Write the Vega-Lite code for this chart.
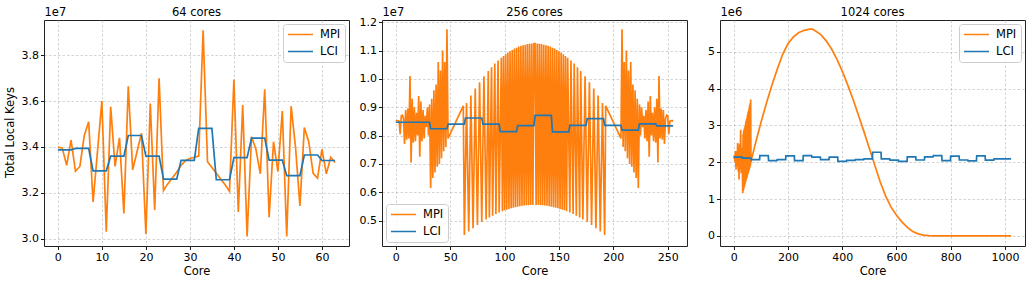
{
  "$schema": "https://vega.github.io/schema/vega-lite/v6.json",
  "background": "white",
  "padding": {"left": 5, "top": 5, "right": 5, "bottom": 3},
  "title": {"text": "Total Local Keys", "orient": "left", "anchor": "middle", "font": "DejaVu Sans", "fontSize": 11.5, "fontWeight": "normal", "color": "black", "offset": 4, "dx": 9},
  "config": {
    "font": "DejaVu Sans",
    "view": {"stroke": "#222222", "strokeWidth": 1},
    "axis": {
      "labelFont": "DejaVu Sans", "labelFontSize": 11, "labelColor": "black", "labelOverlap": false, "tickCount": 12,
      "tickColor": "black", "tickSize": 3.5, "tickWidth": 0.9, "labelPadding": 2,
      "domain": false, "grid": true, "gridColor": "#b0b0b0", "gridOpacity": 0.7, "gridDash": [2.5, 2], "gridWidth": 0.8,
      "titleFont": "DejaVu Sans", "titleFontSize": 11.5, "titleFontWeight": "normal", "titleColor": "black", "titlePadding": 3
    },
    "title": {"font": "DejaVu Sans", "fontSize": 11.5, "fontWeight": "normal", "color": "black", "offset": -12},
    "legend": {
      "labelFont": "DejaVu Sans", "labelFontSize": 11.5, "labelColor": "black",
      "symbolType": "stroke", "symbolSize": 625, "symbolStrokeWidth": 1.7,
      "clipHeight": 13, "labelOffset": 6, "padding": 4, "rowPadding": 4, "offset": 4,
      "strokeColor": "#cccccc", "fillColor": "rgba(255,255,255,0.85)", "cornerRadius": 3
    },
    "line": {"strokeWidth": 1.7}
  },
  "bounds": "flush",
  "spacing": 33,
  "resolve": {"scale": {"color": "independent"}, "legend": {"color": "independent"}},
  "datasets": {
    "cores64": [
      {"core":0,"series":"MPI","keys":3.40},{"core":1,"series":"MPI","keys":3.395},{"core":2,"series":"MPI","keys":3.32},{"core":3,"series":"MPI","keys":3.43},
      {"core":4,"series":"MPI","keys":3.295},{"core":5,"series":"MPI","keys":3.315},{"core":6,"series":"MPI","keys":3.45},{"core":7,"series":"MPI","keys":3.51},
      {"core":8,"series":"MPI","keys":3.16},{"core":9,"series":"MPI","keys":3.38},{"core":10,"series":"MPI","keys":3.60},{"core":11,"series":"MPI","keys":3.03},
      {"core":12,"series":"MPI","keys":3.575},{"core":13,"series":"MPI","keys":3.315},{"core":14,"series":"MPI","keys":3.44},{"core":15,"series":"MPI","keys":3.11},
      {"core":16,"series":"MPI","keys":3.665},{"core":17,"series":"MPI","keys":3.30},{"core":18,"series":"MPI","keys":3.38},{"core":19,"series":"MPI","keys":3.46},
      {"core":20,"series":"MPI","keys":3.02},{"core":21,"series":"MPI","keys":3.59},{"core":22,"series":"MPI","keys":3.125},{"core":23,"series":"MPI","keys":3.70},
      {"core":24,"series":"MPI","keys":3.21},{"core":25,"series":"MPI","keys":3.24},{"core":26,"series":"MPI","keys":3.265},{"core":27,"series":"MPI","keys":3.29},
      {"core":28,"series":"MPI","keys":3.32},{"core":29,"series":"MPI","keys":3.34},{"core":30,"series":"MPI","keys":3.35},{"core":31,"series":"MPI","keys":3.355},
      {"core":32,"series":"MPI","keys":3.36},{"core":33,"series":"MPI","keys":3.909},{"core":34,"series":"MPI","keys":3.336},{"core":35,"series":"MPI","keys":3.31},
      {"core":36,"series":"MPI","keys":3.285},{"core":37,"series":"MPI","keys":3.26},{"core":38,"series":"MPI","keys":3.235},{"core":39,"series":"MPI","keys":3.206},
      {"core":40,"series":"MPI","keys":3.694},{"core":41,"series":"MPI","keys":3.116},{"core":42,"series":"MPI","keys":3.583},{"core":43,"series":"MPI","keys":3.01},
      {"core":44,"series":"MPI","keys":3.445},{"core":45,"series":"MPI","keys":3.39},{"core":46,"series":"MPI","keys":3.283},{"core":47,"series":"MPI","keys":3.652},
      {"core":48,"series":"MPI","keys":3.094},{"core":49,"series":"MPI","keys":3.423},{"core":50,"series":"MPI","keys":3.293},{"core":51,"series":"MPI","keys":3.557},
      {"core":52,"series":"MPI","keys":3.01},{"core":53,"series":"MPI","keys":3.578},{"core":54,"series":"MPI","keys":3.40},{"core":55,"series":"MPI","keys":3.143},
      {"core":56,"series":"MPI","keys":3.485},{"core":57,"series":"MPI","keys":3.423},{"core":58,"series":"MPI","keys":3.285},{"core":59,"series":"MPI","keys":3.264},
      {"core":60,"series":"MPI","keys":3.39},{"core":61,"series":"MPI","keys":3.283},{"core":62,"series":"MPI","keys":3.355},{"core":63,"series":"MPI","keys":3.332},
      {"core":0,"series":"LCI","keys":3.387},{"core":3,"series":"LCI","keys":3.387},{"core":4,"series":"LCI","keys":3.394},{"core":7,"series":"LCI","keys":3.394},
      {"core":8,"series":"LCI","keys":3.296},{"core":11,"series":"LCI","keys":3.296},{"core":12,"series":"LCI","keys":3.36},{"core":15,"series":"LCI","keys":3.36},
      {"core":16,"series":"LCI","keys":3.45},{"core":19,"series":"LCI","keys":3.45},{"core":20,"series":"LCI","keys":3.36},{"core":23,"series":"LCI","keys":3.36},
      {"core":24,"series":"LCI","keys":3.26},{"core":27,"series":"LCI","keys":3.26},{"core":28,"series":"LCI","keys":3.342},{"core":31,"series":"LCI","keys":3.342},
      {"core":32,"series":"LCI","keys":3.481},{"core":35,"series":"LCI","keys":3.481},{"core":36,"series":"LCI","keys":3.257},{"core":39,"series":"LCI","keys":3.257},
      {"core":40,"series":"LCI","keys":3.354},{"core":43,"series":"LCI","keys":3.354},{"core":44,"series":"LCI","keys":3.439},{"core":47,"series":"LCI","keys":3.439},
      {"core":48,"series":"LCI","keys":3.343},{"core":51,"series":"LCI","keys":3.343},{"core":52,"series":"LCI","keys":3.275},{"core":55,"series":"LCI","keys":3.275},
      {"core":56,"series":"LCI","keys":3.365},{"core":59,"series":"LCI","keys":3.365},{"core":60,"series":"LCI","keys":3.341},{"core":63,"series":"LCI","keys":3.341}
    ],
    "cores256": [
      {"core":0,"series":"MPI","keys":0.85},{"core":1,"series":"MPI","keys":0.853},{"core":2,"series":"MPI","keys":0.852},{"core":3,"series":"MPI","keys":0.85},
      {"core":4,"series":"MPI","keys":0.805},{"core":5,"series":"MPI","keys":0.87},{"core":6,"series":"MPI","keys":0.872},{"core":7,"series":"MPI","keys":0.86},
      {"core":8,"series":"MPI","keys":0.77},{"core":9,"series":"MPI","keys":0.89},{"core":10,"series":"MPI","keys":0.785},{"core":11,"series":"MPI","keys":0.895},
      {"core":12,"series":"MPI","keys":0.79},{"core":13,"series":"MPI","keys":1.01},{"core":14,"series":"MPI","keys":0.705},{"core":15,"series":"MPI","keys":0.93},
      {"core":16,"series":"MPI","keys":0.775},{"core":17,"series":"MPI","keys":0.90},{"core":18,"series":"MPI","keys":0.78},{"core":19,"series":"MPI","keys":0.88},
      {"core":20,"series":"MPI","keys":0.80},{"core":21,"series":"MPI","keys":0.94},{"core":22,"series":"MPI","keys":0.725},{"core":23,"series":"MPI","keys":0.92},
      {"core":24,"series":"MPI","keys":0.78},{"core":25,"series":"MPI","keys":0.89},{"core":26,"series":"MPI","keys":0.79},{"core":27,"series":"MPI","keys":0.87},
      {"core":28,"series":"MPI","keys":0.83},{"core":29,"series":"MPI","keys":0.90},{"core":30,"series":"MPI","keys":0.80},{"core":31,"series":"MPI","keys":0.91},
      {"core":32,"series":"MPI","keys":0.615},{"core":33,"series":"MPI","keys":0.93},{"core":34,"series":"MPI","keys":0.65},{"core":35,"series":"MPI","keys":0.96},
      {"core":36,"series":"MPI","keys":0.67},{"core":37,"series":"MPI","keys":0.98},{"core":38,"series":"MPI","keys":0.69},{"core":39,"series":"MPI","keys":1.06},
      {"core":40,"series":"MPI","keys":0.70},{"core":41,"series":"MPI","keys":1.03},{"core":42,"series":"MPI","keys":0.72},{"core":43,"series":"MPI","keys":1.10},
      {"core":44,"series":"MPI","keys":0.745},{"core":45,"series":"MPI","keys":1.06},{"core":46,"series":"MPI","keys":0.76},{"core":47,"series":"MPI","keys":1.175},
      {"core":48,"series":"MPI","keys":0.79},{"core":62,"series":"MPI","keys":0.905},{"core":63,"series":"MPI","keys":0.449},
      {"core":65,"series":"MPI","keys":0.915},{"core":67,"series":"MPI","keys":0.461},{"core":69,"series":"MPI","keys":0.941},{"core":71,"series":"MPI","keys":0.473},
      {"core":73,"series":"MPI","keys":0.966},{"core":75,"series":"MPI","keys":0.484},{"core":77,"series":"MPI","keys":0.988},{"core":79,"series":"MPI","keys":0.495},
      {"core":81,"series":"MPI","keys":1.009},{"core":83,"series":"MPI","keys":0.504},{"core":85,"series":"MPI","keys":1.028},{"core":86,"series":"MPI","keys":0.511},
      {"core":88,"series":"MPI","keys":1.041},{"core":89,"series":"MPI","keys":0.517},{"core":91,"series":"MPI","keys":1.054},{"core":92,"series":"MPI","keys":0.523},
      {"core":94,"series":"MPI","keys":1.065},{"core":95,"series":"MPI","keys":0.528},{"core":97,"series":"MPI","keys":1.075},{"core":98,"series":"MPI","keys":0.533},
      {"core":99,"series":"MPI","keys":1.081},{"core":100,"series":"MPI","keys":0.536},{"core":101,"series":"MPI","keys":1.087},{"core":102,"series":"MPI","keys":0.538},
      {"core":103,"series":"MPI","keys":1.093},{"core":104,"series":"MPI","keys":0.541},{"core":105,"series":"MPI","keys":1.098},{"core":106,"series":"MPI","keys":0.543},
      {"core":107,"series":"MPI","keys":1.102},{"core":108,"series":"MPI","keys":0.545},{"core":109,"series":"MPI","keys":1.107},{"core":110,"series":"MPI","keys":0.547},
      {"core":111,"series":"MPI","keys":1.110},{"core":112,"series":"MPI","keys":0.549},{"core":113,"series":"MPI","keys":1.114},{"core":114,"series":"MPI","keys":0.550},
      {"core":115,"series":"MPI","keys":1.117},{"core":116,"series":"MPI","keys":0.552},{"core":117,"series":"MPI","keys":1.119},{"core":118,"series":"MPI","keys":0.553},
      {"core":119,"series":"MPI","keys":1.121},{"core":120,"series":"MPI","keys":0.554},{"core":121,"series":"MPI","keys":1.123},{"core":122,"series":"MPI","keys":0.554},
      {"core":123,"series":"MPI","keys":1.124},{"core":124,"series":"MPI","keys":0.555},{"core":125,"series":"MPI","keys":1.125},{"core":126,"series":"MPI","keys":0.555},
      {"core":127,"series":"MPI","keys":1.125},{"core":128,"series":"MPI","keys":1.125},{"core":129,"series":"MPI","keys":0.555},{"core":130,"series":"MPI","keys":1.125},
      {"core":131,"series":"MPI","keys":0.555},{"core":132,"series":"MPI","keys":1.124},{"core":133,"series":"MPI","keys":0.554},{"core":134,"series":"MPI","keys":1.123},
      {"core":135,"series":"MPI","keys":0.554},{"core":136,"series":"MPI","keys":1.121},{"core":137,"series":"MPI","keys":0.553},{"core":138,"series":"MPI","keys":1.119},
      {"core":139,"series":"MPI","keys":0.552},{"core":140,"series":"MPI","keys":1.117},{"core":141,"series":"MPI","keys":0.550},{"core":142,"series":"MPI","keys":1.114},
      {"core":143,"series":"MPI","keys":0.549},{"core":144,"series":"MPI","keys":1.110},{"core":145,"series":"MPI","keys":0.547},{"core":146,"series":"MPI","keys":1.107},
      {"core":147,"series":"MPI","keys":0.545},{"core":148,"series":"MPI","keys":1.102},{"core":149,"series":"MPI","keys":0.543},{"core":150,"series":"MPI","keys":1.098},
      {"core":151,"series":"MPI","keys":0.541},{"core":152,"series":"MPI","keys":1.093},{"core":153,"series":"MPI","keys":0.538},{"core":154,"series":"MPI","keys":1.087},
      {"core":155,"series":"MPI","keys":0.536},{"core":156,"series":"MPI","keys":1.081},{"core":157,"series":"MPI","keys":0.533},{"core":158,"series":"MPI","keys":1.075},
      {"core":160,"series":"MPI","keys":0.528},{"core":161,"series":"MPI","keys":1.065},{"core":163,"series":"MPI","keys":0.523},{"core":164,"series":"MPI","keys":1.054},
      {"core":166,"series":"MPI","keys":0.517},{"core":167,"series":"MPI","keys":1.041},{"core":169,"series":"MPI","keys":0.511},{"core":170,"series":"MPI","keys":1.028},
      {"core":172,"series":"MPI","keys":0.504},{"core":174,"series":"MPI","keys":1.009},{"core":176,"series":"MPI","keys":0.495},{"core":178,"series":"MPI","keys":0.988},
      {"core":180,"series":"MPI","keys":0.484},{"core":182,"series":"MPI","keys":0.966},{"core":184,"series":"MPI","keys":0.473},{"core":186,"series":"MPI","keys":0.941},
      {"core":188,"series":"MPI","keys":0.461},{"core":190,"series":"MPI","keys":0.915},{"core":192,"series":"MPI","keys":0.449},{"core":193,"series":"MPI","keys":0.905},
      {"core":207,"series":"MPI","keys":0.79},{"core":208,"series":"MPI","keys":1.175},{"core":209,"series":"MPI","keys":0.76},{"core":210,"series":"MPI","keys":1.06},
      {"core":211,"series":"MPI","keys":0.745},{"core":212,"series":"MPI","keys":1.10},{"core":213,"series":"MPI","keys":0.72},{"core":214,"series":"MPI","keys":1.03},
      {"core":215,"series":"MPI","keys":0.70},{"core":216,"series":"MPI","keys":1.06},{"core":217,"series":"MPI","keys":0.69},{"core":218,"series":"MPI","keys":0.98},
      {"core":219,"series":"MPI","keys":0.67},{"core":220,"series":"MPI","keys":0.96},{"core":221,"series":"MPI","keys":0.65},{"core":222,"series":"MPI","keys":0.93},
      {"core":223,"series":"MPI","keys":0.615},{"core":224,"series":"MPI","keys":0.91},{"core":225,"series":"MPI","keys":0.80},{"core":226,"series":"MPI","keys":0.90},
      {"core":227,"series":"MPI","keys":0.83},{"core":228,"series":"MPI","keys":0.87},{"core":229,"series":"MPI","keys":0.79},{"core":230,"series":"MPI","keys":0.89},
      {"core":231,"series":"MPI","keys":0.78},{"core":232,"series":"MPI","keys":0.92},{"core":233,"series":"MPI","keys":0.725},{"core":234,"series":"MPI","keys":0.94},
      {"core":235,"series":"MPI","keys":0.80},{"core":236,"series":"MPI","keys":0.88},{"core":237,"series":"MPI","keys":0.78},{"core":238,"series":"MPI","keys":0.90},
      {"core":239,"series":"MPI","keys":0.775},{"core":240,"series":"MPI","keys":0.93},{"core":241,"series":"MPI","keys":0.705},{"core":242,"series":"MPI","keys":1.01},
      {"core":243,"series":"MPI","keys":0.79},{"core":244,"series":"MPI","keys":0.895},{"core":245,"series":"MPI","keys":0.785},{"core":246,"series":"MPI","keys":0.89},
      {"core":247,"series":"MPI","keys":0.77},{"core":248,"series":"MPI","keys":0.86},{"core":249,"series":"MPI","keys":0.872},{"core":250,"series":"MPI","keys":0.87},
      {"core":251,"series":"MPI","keys":0.805},{"core":252,"series":"MPI","keys":0.85},{"core":253,"series":"MPI","keys":0.852},{"core":254,"series":"MPI","keys":0.853},
      {"core":255,"series":"MPI","keys":0.85},
      {"core":0,"series":"LCI","keys":0.847},{"core":31,"series":"LCI","keys":0.847},{"core":32,"series":"LCI","keys":0.824},{"core":47,"series":"LCI","keys":0.824},
      {"core":48,"series":"LCI","keys":0.840},{"core":63,"series":"LCI","keys":0.840},{"core":64,"series":"LCI","keys":0.862},{"core":79,"series":"LCI","keys":0.862},
      {"core":80,"series":"LCI","keys":0.840},{"core":95,"series":"LCI","keys":0.840},{"core":96,"series":"LCI","keys":0.814},{"core":111,"series":"LCI","keys":0.814},
      {"core":112,"series":"LCI","keys":0.835},{"core":127,"series":"LCI","keys":0.835},{"core":128,"series":"LCI","keys":0.871},{"core":143,"series":"LCI","keys":0.871},
      {"core":144,"series":"LCI","keys":0.813},{"core":159,"series":"LCI","keys":0.813},{"core":160,"series":"LCI","keys":0.836},{"core":175,"series":"LCI","keys":0.836},
      {"core":176,"series":"LCI","keys":0.86},{"core":191,"series":"LCI","keys":0.86},{"core":192,"series":"LCI","keys":0.836},{"core":207,"series":"LCI","keys":0.836},
      {"core":208,"series":"LCI","keys":0.819},{"core":223,"series":"LCI","keys":0.819},{"core":224,"series":"LCI","keys":0.841},{"core":239,"series":"LCI","keys":0.841},
      {"core":240,"series":"LCI","keys":0.834},{"core":255,"series":"LCI","keys":0.834}
    ],
    "cores1024": [
      {"core":0,"series":"MPI","keys":2.1},{"core":2,"series":"MPI","keys":2.2},{"core":4,"series":"MPI","keys":2.0},{"core":6,"series":"MPI","keys":2.3},
      {"core":8,"series":"MPI","keys":1.8},{"core":10,"series":"MPI","keys":2.3},{"core":12,"series":"MPI","keys":1.9},{"core":14,"series":"MPI","keys":2.52},
      {"core":16,"series":"MPI","keys":1.75},{"core":18,"series":"MPI","keys":2.3},{"core":19,"series":"MPI","keys":1.53},{"core":21,"series":"MPI","keys":2.5},
      {"core":23,"series":"MPI","keys":1.8},{"core":25,"series":"MPI","keys":2.88},{"core":27,"series":"MPI","keys":1.7},{"core":29,"series":"MPI","keys":2.4},
      {"core":31,"series":"MPI","keys":1.9},{"core":33,"series":"MPI","keys":1.16},{"core":34,"series":"MPI","keys":2.75},{"core":35,"series":"MPI","keys":1.22},
      {"core":36,"series":"MPI","keys":2.85},{"core":37,"series":"MPI","keys":1.28},{"core":38,"series":"MPI","keys":2.9},{"core":39,"series":"MPI","keys":1.33},
      {"core":40,"series":"MPI","keys":2.95},{"core":41,"series":"MPI","keys":1.4},{"core":42,"series":"MPI","keys":3.0},{"core":43,"series":"MPI","keys":1.45},
      {"core":44,"series":"MPI","keys":3.1},{"core":45,"series":"MPI","keys":1.5},{"core":46,"series":"MPI","keys":3.15},{"core":47,"series":"MPI","keys":1.55},
      {"core":48,"series":"MPI","keys":3.2},{"core":49,"series":"MPI","keys":1.6},{"core":50,"series":"MPI","keys":3.28},{"core":51,"series":"MPI","keys":1.65},
      {"core":52,"series":"MPI","keys":3.35},{"core":53,"series":"MPI","keys":1.7},{"core":54,"series":"MPI","keys":3.4},{"core":55,"series":"MPI","keys":1.75},
      {"core":56,"series":"MPI","keys":3.47},{"core":57,"series":"MPI","keys":1.8},{"core":58,"series":"MPI","keys":3.55},{"core":59,"series":"MPI","keys":1.85},
      {"core":60,"series":"MPI","keys":3.6},{"core":61,"series":"MPI","keys":1.9},{"core":62,"series":"MPI","keys":3.7},{"core":63,"series":"MPI","keys":1.98},
      {"core":64,"series":"MPI","keys":2.05},{"core":80,"series":"MPI","keys":2.52},{"core":100,"series":"MPI","keys":3.08},{"core":120,"series":"MPI","keys":3.6},
      {"core":140,"series":"MPI","keys":4.08},{"core":160,"series":"MPI","keys":4.52},{"core":180,"series":"MPI","keys":4.93},{"core":200,"series":"MPI","keys":5.22},
      {"core":220,"series":"MPI","keys":5.4},{"core":240,"series":"MPI","keys":5.52},{"core":260,"series":"MPI","keys":5.58},{"core":280,"series":"MPI","keys":5.61},
      {"core":290,"series":"MPI","keys":5.61},{"core":300,"series":"MPI","keys":5.57},{"core":320,"series":"MPI","keys":5.47},{"core":340,"series":"MPI","keys":5.3},
      {"core":360,"series":"MPI","keys":5.08},{"core":380,"series":"MPI","keys":4.8},{"core":400,"series":"MPI","keys":4.47},{"core":420,"series":"MPI","keys":4.1},
      {"core":440,"series":"MPI","keys":3.7},{"core":460,"series":"MPI","keys":3.27},{"core":480,"series":"MPI","keys":2.83},{"core":500,"series":"MPI","keys":2.37},
      {"core":520,"series":"MPI","keys":1.92},{"core":540,"series":"MPI","keys":1.46},{"core":560,"series":"MPI","keys":1.08},{"core":580,"series":"MPI","keys":0.78},
      {"core":600,"series":"MPI","keys":0.56},{"core":620,"series":"MPI","keys":0.38},{"core":640,"series":"MPI","keys":0.23},{"core":660,"series":"MPI","keys":0.12},
      {"core":680,"series":"MPI","keys":0.055},{"core":700,"series":"MPI","keys":0.02},{"core":720,"series":"MPI","keys":0.006},{"core":740,"series":"MPI","keys":0.001},
      {"core":760,"series":"MPI","keys":0},{"core":800,"series":"MPI","keys":0},{"core":900,"series":"MPI","keys":0},{"core":1023,"series":"MPI","keys":0},
      {"core":0,"series":"LCI","keys":2.135},{"core":31,"series":"LCI","keys":2.135},{"core":32,"series":"LCI","keys":2.11},{"core":63,"series":"LCI","keys":2.11},
      {"core":64,"series":"LCI","keys":2.07},{"core":95,"series":"LCI","keys":2.07},{"core":96,"series":"LCI","keys":2.18},{"core":127,"series":"LCI","keys":2.18},
      {"core":128,"series":"LCI","keys":2.04},{"core":159,"series":"LCI","keys":2.04},{"core":160,"series":"LCI","keys":2.07},{"core":191,"series":"LCI","keys":2.07},
      {"core":192,"series":"LCI","keys":2.17},{"core":223,"series":"LCI","keys":2.17},{"core":224,"series":"LCI","keys":2.04},{"core":255,"series":"LCI","keys":2.04},
      {"core":256,"series":"LCI","keys":2.18},{"core":287,"series":"LCI","keys":2.18},{"core":288,"series":"LCI","keys":2.14},{"core":319,"series":"LCI","keys":2.14},
      {"core":320,"series":"LCI","keys":2.07},{"core":351,"series":"LCI","keys":2.07},{"core":352,"series":"LCI","keys":2.14},{"core":383,"series":"LCI","keys":2.14},
      {"core":384,"series":"LCI","keys":2.02},{"core":415,"series":"LCI","keys":2.02},{"core":416,"series":"LCI","keys":2.05},{"core":447,"series":"LCI","keys":2.05},
      {"core":448,"series":"LCI","keys":2.07},{"core":479,"series":"LCI","keys":2.07},{"core":480,"series":"LCI","keys":2.09},{"core":511,"series":"LCI","keys":2.09},
      {"core":512,"series":"LCI","keys":2.27},{"core":543,"series":"LCI","keys":2.27},{"core":544,"series":"LCI","keys":2.09},{"core":575,"series":"LCI","keys":2.09},
      {"core":576,"series":"LCI","keys":2.055},{"core":607,"series":"LCI","keys":2.055},{"core":608,"series":"LCI","keys":2.02},{"core":639,"series":"LCI","keys":2.02},
      {"core":640,"series":"LCI","keys":2.145},{"core":671,"series":"LCI","keys":2.145},{"core":672,"series":"LCI","keys":2.06},{"core":703,"series":"LCI","keys":2.06},
      {"core":704,"series":"LCI","keys":2.145},{"core":735,"series":"LCI","keys":2.145},{"core":736,"series":"LCI","keys":2.18},{"core":767,"series":"LCI","keys":2.18},
      {"core":768,"series":"LCI","keys":2.045},{"core":799,"series":"LCI","keys":2.045},{"core":800,"series":"LCI","keys":2.165},{"core":831,"series":"LCI","keys":2.165},
      {"core":832,"series":"LCI","keys":2.06},{"core":863,"series":"LCI","keys":2.06},{"core":864,"series":"LCI","keys":2.035},{"core":895,"series":"LCI","keys":2.035},
      {"core":896,"series":"LCI","keys":2.17},{"core":927,"series":"LCI","keys":2.17},{"core":928,"series":"LCI","keys":2.055},{"core":959,"series":"LCI","keys":2.055},
      {"core":960,"series":"LCI","keys":2.09},{"core":991,"series":"LCI","keys":2.09},{"core":992,"series":"LCI","keys":2.09},{"core":1023,"series":"LCI","keys":2.09}
    ]
  },
  "hconcat": [
    {
      "width": 305, "height": 226,
      "title": "64 cores",
      "data": {"name": "cores64"},
      "layer": [
        {
          "transform": [{"filter": "datum.series === 'MPI'"}],
          "mark": {"type": "line"},
          "encoding": {
            "x": {"field": "core", "type": "quantitative", "scale": {"domain": [-3.15, 66.15], "nice": false, "zero": false}, "axis": {"values": [0, 10, 20, 30, 40, 50, 60], "tickCount": 12, "format": "d", "title": "Core", "labelOverlap": false}},
            "y": {"field": "keys", "type": "quantitative", "scale": {"domain": [2.968, 3.954], "nice": false, "zero": false}, "axis": {"values": [3.0, 3.2, 3.4, 3.6, 3.8], "tickCount": 12, "format": ".1f", "labelOverlap": false, "title": "1e7", "titleAngle": 0, "titleAlign": "left", "titleBaseline": "bottom", "titleX": 0, "titleY": -3}},
            "color": {"field": "series", "type": "nominal", "scale": {"domain": ["MPI", "LCI"], "range": ["#ff7f0e", "#1f77b4"]}, "legend": {"title": null, "orient": "top-right"}}
          }
        },
        {
          "transform": [{"filter": "datum.series === 'LCI'"}],
          "mark": {"type": "line"},
          "encoding": {
            "x": {"field": "core", "type": "quantitative"},
            "y": {"field": "keys", "type": "quantitative"},
            "color": {"field": "series", "type": "nominal"}
          }
        }
      ]
    },
    {
      "width": 305, "height": 226,
      "title": "256 cores",
      "data": {"name": "cores256"},
      "layer": [
        {
          "transform": [{"filter": "datum.series === 'MPI'"}],
          "mark": {"type": "line"},
          "encoding": {
            "x": {"field": "core", "type": "quantitative", "scale": {"domain": [-12.75, 267.75], "nice": false, "zero": false}, "axis": {"values": [0, 50, 100, 150, 200, 250], "tickCount": 12, "format": "d", "title": "Core", "labelOverlap": false}},
            "y": {"field": "keys", "type": "quantitative", "scale": {"domain": [0.41, 1.208], "nice": false, "zero": false}, "axis": {"values": [0.5, 0.6, 0.7, 0.8, 0.9, 1.0, 1.1, 1.2], "tickCount": 12, "format": ".1f", "labelOverlap": false, "title": "1e7", "titleAngle": 0, "titleAlign": "left", "titleBaseline": "bottom", "titleX": 0, "titleY": -3}},
            "color": {"field": "series", "type": "nominal", "scale": {"domain": ["MPI", "LCI"], "range": ["#ff7f0e", "#1f77b4"]}, "legend": {"title": null, "orient": "bottom-left"}}
          }
        },
        {
          "transform": [{"filter": "datum.series === 'LCI'"}],
          "mark": {"type": "line"},
          "encoding": {
            "x": {"field": "core", "type": "quantitative"},
            "y": {"field": "keys", "type": "quantitative"},
            "color": {"field": "series", "type": "nominal"}
          }
        }
      ]
    },
    {
      "width": 305, "height": 226,
      "title": "1024 cores",
      "data": {"name": "cores1024"},
      "layer": [
        {
          "transform": [{"filter": "datum.series === 'MPI'"}],
          "mark": {"type": "line"},
          "encoding": {
            "x": {"field": "core", "type": "quantitative", "scale": {"domain": [-51.15, 1074.15], "nice": false, "zero": false}, "axis": {"values": [0, 200, 400, 600, 800, 1000], "tickCount": 12, "format": "d", "title": "Core", "labelOverlap": false}},
            "y": {"field": "keys", "type": "quantitative", "scale": {"domain": [-0.275, 5.86], "nice": false, "zero": false}, "axis": {"values": [0, 1, 2, 3, 4, 5], "tickCount": 12, "format": "d", "labelOverlap": false, "title": "1e6", "titleAngle": 0, "titleAlign": "left", "titleBaseline": "bottom", "titleX": 0, "titleY": -3}},
            "color": {"field": "series", "type": "nominal", "scale": {"domain": ["MPI", "LCI"], "range": ["#ff7f0e", "#1f77b4"]}, "legend": {"title": null, "orient": "top-right"}}
          }
        },
        {
          "transform": [{"filter": "datum.series === 'LCI'"}],
          "mark": {"type": "line"},
          "encoding": {
            "x": {"field": "core", "type": "quantitative"},
            "y": {"field": "keys", "type": "quantitative"},
            "color": {"field": "series", "type": "nominal"}
          }
        }
      ]
    }
  ]
}
